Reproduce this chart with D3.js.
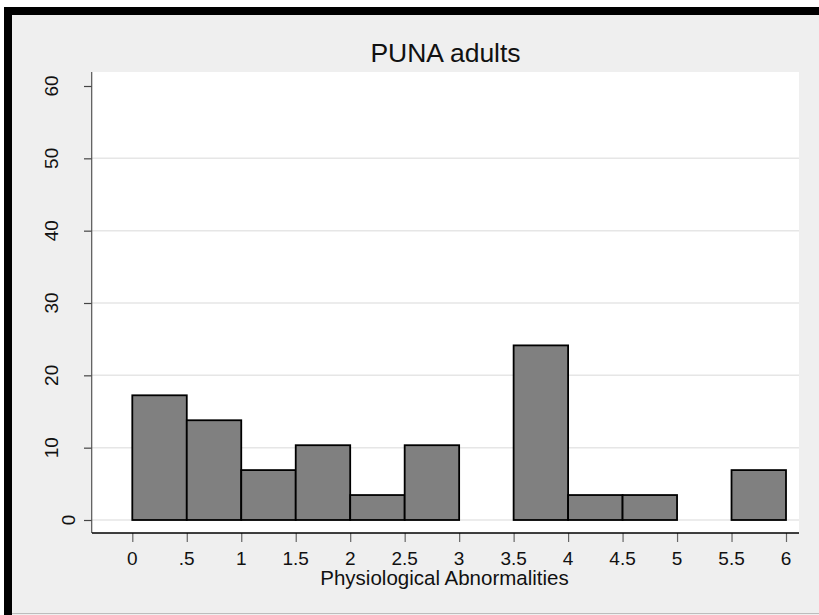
<!DOCTYPE html>
<html>
<head>
<meta charset="utf-8">
<script src="https://cdn.jsdelivr.net/npm/d3@7"></script>
<style>
  body { margin: 0; background: #fff; }
  svg { display: block; font-family: "Liberation Sans", Arial, sans-serif; }
</style>
</head>
<body>
<svg id="chart" width="819" height="615"></svg>
<script>
// histogram bins (left edge) and percent of adults in each bin
const binStart = [0, 0.5, 1, 1.5, 2, 2.5, 3, 3.5, 4, 4.5, 5, 5.5];
const binWidth = 0.5;
const percent = [17.24, 13.79, 6.90, 10.34, 3.45, 10.34, 0, 24.14, 3.45, 3.45, 0, 6.90];
const xTicks = [0, 0.5, 1, 1.5, 2, 2.5, 3, 3.5, 4, 4.5, 5, 5.5, 6];
const yTicks = [0, 10, 20, 30, 40, 50, 60];
const gridValues = [0, 10, 20, 30, 40, 50];

const svg = d3.select("#chart");

// frame: gray page with black edge top/left
svg.append("rect").attr("x", 12).attr("y", 15).attr("width", 807).attr("height", 600).attr("fill", "#efefef");
svg.append("rect").attr("x", 4).attr("y", 7).attr("width", 815).attr("height", 8).attr("fill", "#000");
svg.append("rect").attr("x", 4).attr("y", 7).attr("width", 8).attr("height", 608).attr("fill", "#000");
svg.append("line").attr("x1", 12).attr("x2", 819).attr("y1", 613.5).attr("y2", 613.5)
    .attr("stroke", "#bdbdbd").attr("stroke-width", 1);

const plot = { left: 92, right: 799, top: 72, bottom: 533 };
svg.append("rect")
    .attr("x", plot.left).attr("y", plot.top)
    .attr("width", plot.right - plot.left).attr("height", plot.bottom - plot.top)
    .attr("fill", "#fff");

const x = d3.scaleLinear().domain([0, 6]).range([132.3, 786]);
const y = d3.scaleLinear().domain([0, 60]).range([520, 86]);

// gridlines
svg.append("g").selectAll("line")
    .data(gridValues)
    .enter().append("line")
    .attr("x1", plot.left).attr("x2", plot.right)
    .attr("y1", d => y(d)).attr("y2", d => y(d))
    .attr("stroke", "#e6e6e6").attr("stroke-width", 1.5);

// bars
const bins = binStart.map((b, i) => ({ x0: b, x1: b + binWidth, value: percent[i] }))
    .filter(d => d.value > 0);

svg.append("g").selectAll("rect")
    .data(bins)
    .enter().append("rect")
    .attr("x", d => x(d.x0))
    .attr("y", d => y(d.value))
    .attr("width", d => x(d.x1) - x(d.x0))
    .attr("height", d => y(0) - y(d.value))
    .attr("fill", "#808080")
    .attr("stroke", "#000")
    .attr("stroke-width", 1.8);

// y axis
const yAxis = svg.append("g")
    .attr("transform", `translate(${plot.left},0)`)
    .call(d3.axisLeft(y).tickValues(yTicks).tickSize(8).tickFormat(""));
yAxis.select(".domain").remove();
yAxis.selectAll(".tick line").attr("stroke", "#444").attr("stroke-width", 1.2);

svg.append("line")
    .attr("x1", plot.left - 0.3).attr("x2", plot.left - 0.3)
    .attr("y1", plot.top).attr("y2", plot.bottom)
    .attr("stroke", "#555").attr("stroke-width", 1.2);

// rotated y labels (Stata shifts the short one right)
svg.append("g").selectAll("text")
    .data(yTicks)
    .enter().append("text")
    .attr("transform", d => `translate(${84 - 16.5 * String(d).length + 7},${y(d)}) rotate(-90)`)
    .attr("text-anchor", "middle")
    .attr("font-size", 19)
    .attr("fill", "#111")
    .text(d => d);

// x axis
const xAxis = svg.append("g")
    .attr("transform", `translate(0,${plot.bottom})`)
    .call(d3.axisBottom(x).tickValues(xTicks).tickSize(9).tickFormat(""));
xAxis.select(".domain").remove();
xAxis.selectAll(".tick line").attr("stroke", "#666").attr("stroke-width", 1.2);

svg.append("line")
    .attr("x1", plot.left).attr("x2", plot.right)
    .attr("y1", plot.bottom).attr("y2", plot.bottom)
    .attr("stroke", "#000").attr("stroke-width", 1.4);

const fmt = d => d === 0 ? "0" : String(d).replace(/^0\./, ".");
svg.append("g").selectAll("text")
    .data(xTicks)
    .enter().append("text")
    .attr("x", d => x(d))
    .attr("y", 565)
    .attr("text-anchor", "middle")
    .attr("font-size", 19)
    .attr("fill", "#111")
    .text(fmt);

// titles
svg.append("text")
    .attr("x", (plot.left + plot.right) / 2)
    .attr("y", 61.5)
    .attr("text-anchor", "middle")
    .attr("font-size", 26.5)
    .attr("fill", "#111")
    .text("PUNA adults");

svg.append("text")
    .attr("x", 444.5)
    .attr("y", 585)
    .attr("text-anchor", "middle")
    .attr("font-size", 20.5)
    .attr("fill", "#111")
    .text("Physiological Abnormalities");
</script>
</body>
</html>
